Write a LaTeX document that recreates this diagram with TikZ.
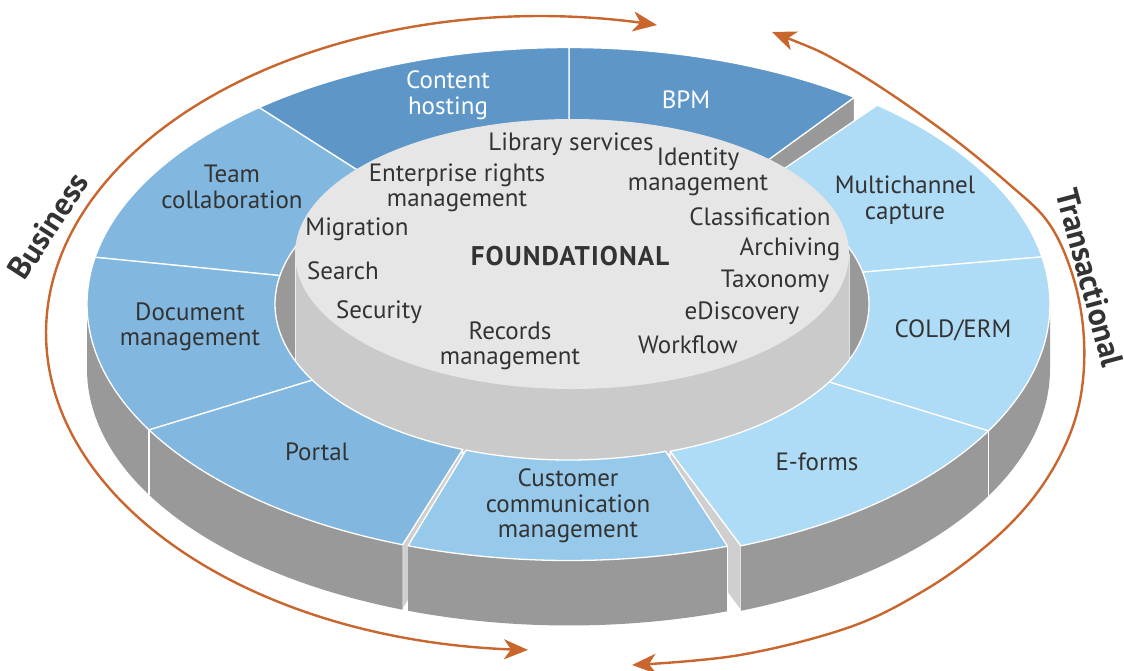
\documentclass[tikz,border=0pt]{standalone}
\usepackage{fontspec}
\setmainfont{PT Sans}
\usetikzlibrary{arrows.meta}
\definecolor{cdark}{HTML}{5E97C7}
\definecolor{cmid}{HTML}{82B8DF}
\definecolor{ccust}{HTML}{97C9EA}
\definecolor{clight}{HTML}{AEDBF5}
\definecolor{cside}{HTML}{999999}
\definecolor{cend}{HTML}{CFCFCF}
\definecolor{cyltop}{HTML}{E6E6E6}
\definecolor{cylside}{HTML}{CACACA}
\definecolor{carr}{HTML}{C8662E}
\definecolor{ctxt}{HTML}{333333}
\tikzset{
  topline/.style={draw=white, line width=1.3pt, line join=round},
  lbl/.style={text=ctxt, align=center, font=\fontsize{25}{25.5}\selectfont, inner sep=0pt},
  wlbl/.style={lbl, text=white},
  sidelbl/.style={text=ctxt, inner sep=0pt, font=\fontsize{32}{34}\selectfont\bfseries},
  bigarrow/.style={draw=carr, line width=2.4pt,
    {Stealth[length=24pt,width=20pt,inset=7pt]}-{Stealth[length=24pt,width=20pt,inset=7pt]}},
}
% business ring: centre (569,304), outer 482 x 256.5, inner 294 x 156
\newcommand{\btop}[5]{\filldraw[fill=#5, topline]
  plot[domain=#1:#2, samples=40] ({569+482*cos(\x)},{304+256.5*sin(\x)}) --
  plot[domain=#4:#3, samples=40] ({569+294*cos(\x)},{304+156*sin(\x)}) -- cycle;}
% transactional ring: centre (572,304), outer 478 x 258.5, inner 297 x 156
\newcommand{\ttop}[5]{\filldraw[fill=#5, topline]
  plot[domain=#1:#2, samples=40] ({572+478*cos(\x)},{304+258.5*sin(\x)}) --
  plot[domain=#4:#3, samples=40] ({572+297*cos(\x)},{304+156*sin(\x)}) -- cycle;}
\newcommand{\bside}[2]{\fill[cside]
  plot[domain=#1:#2, samples=30] ({569+482*cos(\x)},{304+256.5*sin(\x)}) --
  plot[domain=#2:#1, samples=30] ({569+482*cos(\x)},{369+256.5*sin(\x)}) -- cycle;}
\newcommand{\tside}[2]{\fill[cside]
  plot[domain=#1:#2, samples=30] ({572+478*cos(\x)},{304+258.5*sin(\x)}) --
  plot[domain=#2:#1, samples=30] ({572+478*cos(\x)},{369+258.5*sin(\x)}) -- cycle;}
\newcommand{\bend}[3]{\filldraw[fill=#3, draw=white, line width=1pt, line join=round]
  ({569+482*cos(#1)},{304+256.5*sin(#1)}) -- ({569+482*cos(#1)},{369+256.5*sin(#1)}) --
  ({569+294*cos(#2)},{369+156*sin(#2)}) -- ({569+294*cos(#2)},{304+156*sin(#2)}) -- cycle;}
\newcommand{\tend}[3]{\filldraw[fill=#3, draw=white, line width=1pt, line join=round]
  ({572+478*cos(#1)},{304+258.5*sin(#1)}) -- ({572+478*cos(#1)},{369+258.5*sin(#1)}) --
  ({572+297*cos(#2)},{369+156*sin(#2)}) -- ({572+297*cos(#2)},{304+156*sin(#2)}) -- cycle;}
\newcommand{\bvert}[1]{\draw[white, line width=1.2pt] ({569+482*cos(#1)},{304+256.5*sin(#1)}) -- ++(0,65);}
\newcommand{\tvert}[1]{\draw[white, line width=1.2pt] ({572+478*cos(#1)},{304+258.5*sin(#1)}) -- ++(0,65);}

\begin{document}
\begin{tikzpicture}[x=1pt, y=-1pt]
\useasboundingbox (0,0) rectangle (1124,670);

% ---- orbit arrows
\draw[bigarrow] plot[domain=-76.3:-268.6, samples=150] ({540+494*cos(\x)},{333+317*sin(\x)});
\draw[bigarrow] plot[smooth, tension=0.6] coordinates {(772,32) (848,67) (938,127) (1010,185) (1050,225) (1074,280) (1084,340) (1080,400) (1062,452) (1030,502) (985,547) (925,590) (850,627) (740,655) (632,665)};
\node[sidelbl, rotate=57] (business) at (48,226) {Business};
\node[sidelbl, rotate=-75] (transactional) at (1090,278) {Transactional};

% ---- hole: inner wall and cylinder side
\begin{scope}
  \clip (571,304) ellipse [x radius=299pt, y radius=158pt];
  \fill[cside] (250,120) rectangle (900,480);
  \fill[cylside] (295,254) rectangle (849,480);
  \draw[white, opacity=0.7, line width=0.8pt] (295,254) -- (295,480) (849,254) -- (849,480);
\end{scope}

% ---- end faces
\bend{-53.7}{-53.7}{cside}
\tend{69.3}{70.7}{cend}
\bend{110.2}{111.2}{cend}

% ---- outer walls
\bside{150.6}{180}
\bside{110.2}{150.6}
\bside{70.8}{109.5}
\tside{0}{29.4}
\tside{29.4}{69.3}
\bvert{150.6}
\bvert{70.8}
\tvert{29.4}

% ---- ring tops
\btop{-53.7}{-90}{-53.7}{-90}{cdark}
\btop{-90}{-130}{-90}{-130}{cdark}
\btop{-130}{-169.5}{-130}{-169.5}{cmid}
\btop{-169.5}{-209.4}{-169.5}{-209.2}{cmid}
\btop{150.6}{110.2}{150.8}{111.2}{cmid}
\btop{109.5}{70.8}{110.5}{70.8}{ccust}
\ttop{-50.3}{-10.5}{-50.3}{-11.8}{clight}
\ttop{-10.5}{29.4}{-11.8}{30}{clight}
\ttop{29.4}{69.3}{30}{70.7}{clight}

% ---- cylinder top
\fill[cyltop] (572,254) ellipse [x radius=277pt, y radius=135pt];

% ---- ring labels
\node[wlbl] (content) at (448,95) {Content\\hosting};
\node[wlbl] (bpm) at (686,100) {BPM};
\node[lbl] (team) at (232,187) {Team\\collaboration};
\node[lbl] (doc) at (190,327) {Document\\management};
\node[lbl] (portal) at (317,452) {Portal};
\node[lbl] (ccm) at (568,506) {Customer\\communication\\management};
\node[lbl] (mcc) at (905,200) {Multichannel\\capture};
\node[lbl] (cold) at (953,330) {COLD/ERM};
\node[lbl] (eforms) at (817,462) {E-forms};

% ---- foundational labels
\node[lbl] (lib) at (571,144) {Library services};
\node[lbl] (idm) at (698,172) {Identity\\management};
\node[lbl] (erm) at (457,188) {Enterprise rights\\management};
\node[lbl] (cls) at (760,217) {Classification};
\node[lbl] (mig) at (357,229) {Migration};
\node[lbl] (arc) at (790,249) {Archiving};
\node[lbl, font=\fontsize{27}{28}\selectfont\bfseries\addfontfeature{LetterSpace=4}] (found) at (570,256) {FOUNDATIONAL};
\node[lbl] (search) at (343,271) {Search};
\node[lbl] (tax) at (775,281) {Taxonomy};
\node[lbl] (sec) at (379,312) {Security};
\node[lbl] (edis) at (742,313) {eDiscovery};
\node[lbl] (rec) at (510,346) {Records\\management};
\node[lbl] (wf) at (688,345) {Workflow};
\end{tikzpicture}
\end{document}
